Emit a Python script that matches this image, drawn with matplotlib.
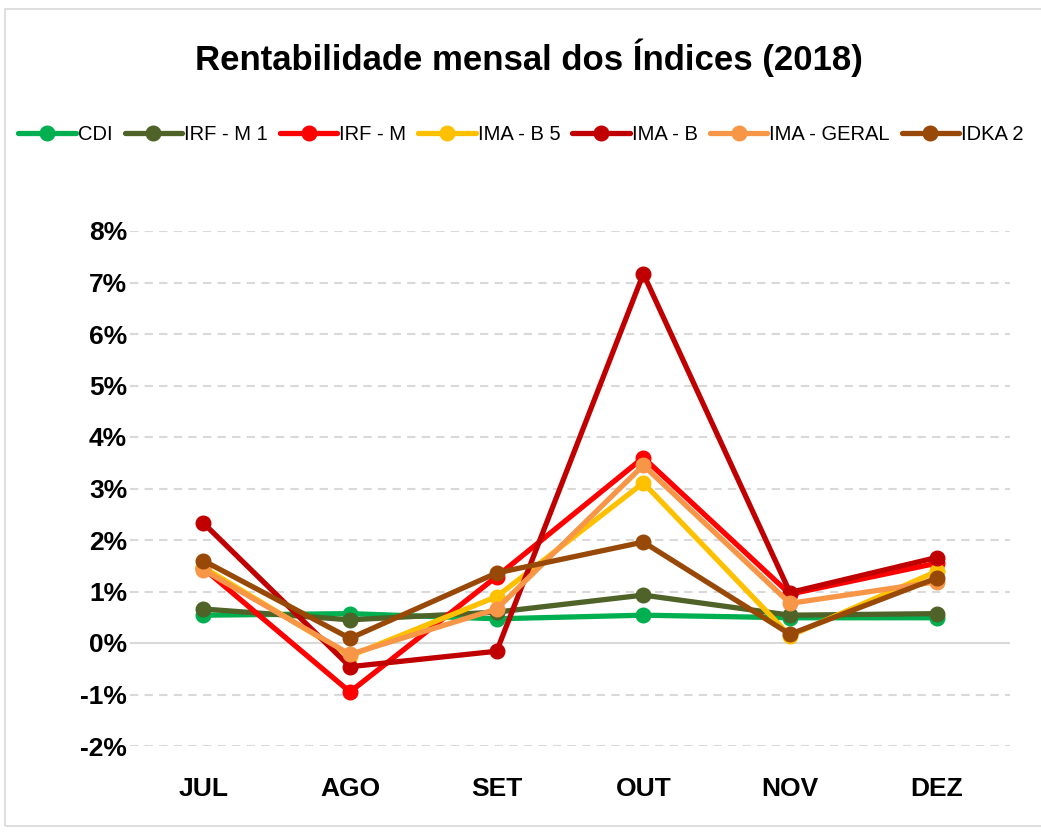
import matplotlib
matplotlib.use('Agg')
import matplotlib.pyplot as plt
from matplotlib.patches import Rectangle

plt.rcParams['font.family'] = ['Liberation Sans', 'DejaVu Sans']

# --- data (% a.m.) ---
months = ['JUL', 'AGO', 'SET', 'OUT', 'NOV', 'DEZ']
series_names = ['CDI', 'IRF - M 1', 'IRF - M', 'IMA - B 5', 'IMA - B', 'IMA - GERAL', 'IDKA 2']
cdi = [0.54, 0.57, 0.47, 0.54, 0.49, 0.49]
irfm1 = [0.66, 0.45, 0.60, 0.93, 0.54, 0.57]
irfm = [1.45, -0.95, 1.29, 3.60, 0.95, 1.55]
imab5 = [1.47, -0.25, 0.90, 3.11, 0.14, 1.39]
imab = [2.33, -0.46, -0.16, 7.17, 0.98, 1.66]
imageral = [1.42, -0.22, 0.66, 3.45, 0.77, 1.19]
idka2 = [1.60, 0.09, 1.36, 1.96, 0.17, 1.26]

values = [cdi, irfm1, irfm, imab5, imab, imageral, idka2]
colors = ['#00B050', '#4F6228', '#FF0000', '#FFC000', '#C00000', '#F79646', '#984807']

fig = plt.figure(figsize=(10.41, 8.32), dpi=100)
ax = fig.add_axes([130 / 1041, 1 - 746 / 832, 880 / 1041, 515 / 832])

x = list(range(len(months)))
for name, vals, c in zip(series_names, values, colors):
    ax.plot(x, vals, color=c, lw=3.8, marker='o', ms=10.5, label=name,
            solid_capstyle='round', zorder=3)

ax.set_xlim(-0.5, len(months) - 0.5)
ax.set_ylim(-2, 8)
ax.set_yticks(range(-2, 9))
ax.set_yticklabels([f'{v}%' for v in range(-2, 9)])
ax.set_xticks(x)
ax.set_xticklabels(months)

for v in range(-2, 9):
    if v == 0:
        ax.axhline(0, color='#D9D9D9', lw=1.5, zorder=1)
    else:
        ax.axhline(v, color='#D9D9D9', lw=1.5, ls=(0, (4, 3)), zorder=1)

for s in ax.spines.values():
    s.set_visible(False)
ax.tick_params(axis='y', length=0, labelsize=19, pad=2)
ax.tick_params(axis='x', length=0, labelsize=19, pad=22)
for lbl in ax.get_xticklabels() + ax.get_yticklabels():
    lbl.set_fontweight('bold')

fig.text(0.508, 0.93, 'Rentabilidade mensal dos Índices (2018)', ha='center',
         va='center', fontsize=25, fontweight='bold')

leg = fig.legend(loc='center left', bbox_to_anchor=(0.010, 0.838), ncol=7,
                 frameon=False, fontsize=14.5, handlelength=2.85,
                 columnspacing=0.6, handletextpad=0.1, borderaxespad=0)

# chart border
fig.patches.append(Rectangle((5 / 1041, 6 / 832), 1.2, 1 - 15 / 832,
                             transform=fig.transFigure, fill=False,
                             edgecolor='#D9D9D9', lw=1.2))

fig.savefig('out.png', dpi=100)
